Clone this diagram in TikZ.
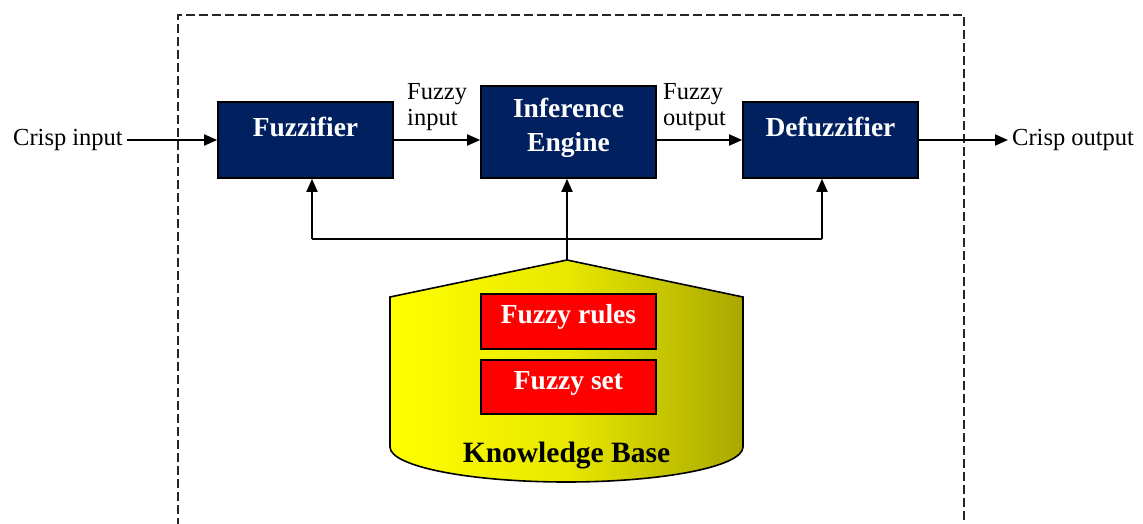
\documentclass[tikz,border=0pt]{standalone}
\usepackage{fontspec}
\setmainfont{Liberation Serif}
\usetikzlibrary{arrows.meta,positioning}
\definecolor{navybox}{RGB}{0,32,96}
\definecolor{kbyellow}{RGB}{255,255,0}
\definecolor{kbmid}{RGB}{232,232,0}
\definecolor{kbolive}{RGB}{170,168,0}
\begin{document}
\begin{tikzpicture}[
    x=1pt, y=-1pt,
    font=\fontsize{24.5}{26}\selectfont,
    block/.style={draw=black, line width=1.6pt, fill=navybox, text=white,
                  inner sep=0pt, minimum width=175pt, align=center,
                  font=\fontsize{27.5}{35}\selectfont\bfseries},
    rulebox/.style={draw=black, line width=1.6pt, fill=red, text=white,
                    inner sep=0pt, minimum width=175pt, text height=29.5pt,
                    text depth=25pt, font=\fontsize{27.5}{33}\selectfont\bfseries},
    lbl/.style={inner sep=4pt, align=left},
    flow/.style={line width=1.8pt, -{Triangle[length=13pt,width=11pt]}},
    bus/.style={line width=1.8pt},
    frame/.style={line width=1.5pt, dash pattern=on 9pt off 4pt, draw=black!85}
  ]
  \useasboundingbox (0,0) rectangle (1143,524);

  % System boundary, runs off the bottom edge.
  \draw[frame] (178,540) -- (178,15) -- (964,15) -- (964,540);

  % Main chain.
  \node[block, text height=34pt, text depth=42pt] (fuzz) at (305.5,140) {Fuzzifier};
  \node[block, text height=66pt, text depth=26pt] (infer) at (568.5,132) {Inference\\Engine};
  \node[block, text height=35pt, text depth=41pt] (defuzz) at (830.5,140) {Defuzzifier};
  \node[lbl, anchor=east] (crispin) at (127,140) {Crisp input};
  \node[lbl, anchor=west] (crispout) at (1008,140) {Crisp output};
  \node[lbl, anchor=south west] (fin) at (403,135) {Fuzzy\\input};
  \node[lbl, anchor=south west] (fout) at (659,135) {Fuzzy\\output};
  \draw[flow] (crispin.east) -- (fuzz.west);
  \draw[flow] (fuzz.east) -- (fuzz.east -| infer.west);
  \draw[flow] (infer.east |- defuzz.west) -- (defuzz.west);
  \draw[flow] (defuzz.east) -- (crispout.west);

  % Knowledge base tank.
  \coordinate (kbtop) at (567,260);
  \draw[line width=1.6pt, left color=kbyellow, right color=kbolive, middle color=kbmid]
    (390,297) -- (kbtop) -- (743,297) -- (743,447)
    arc[start angle=0, end angle=-180, x radius=176.5pt, y radius=35pt] -- cycle;
  \node[rulebox] (rules) at (568.5,321.5) {Fuzzy rules};
  \node[rulebox] (fset) at (568.5,387) {Fuzzy set};
  \node[font=\fontsize{29.5}{34}\selectfont\bfseries] (kbname) at (566.5,456) {Knowledge Base};

  % Feedback from the knowledge base.
  \coordinate (busl) at (312,239);
  \coordinate (busr) at (822,239);
  \draw[bus] (busl) -- (busr);
  \draw[flow] (busl) -- (busl |- fuzz.south);
  \draw[flow] (busr) -- (busr |- defuzz.south);
  \draw[flow] (kbtop) -- (kbtop |- infer.south);
\end{tikzpicture}
\end{document}
